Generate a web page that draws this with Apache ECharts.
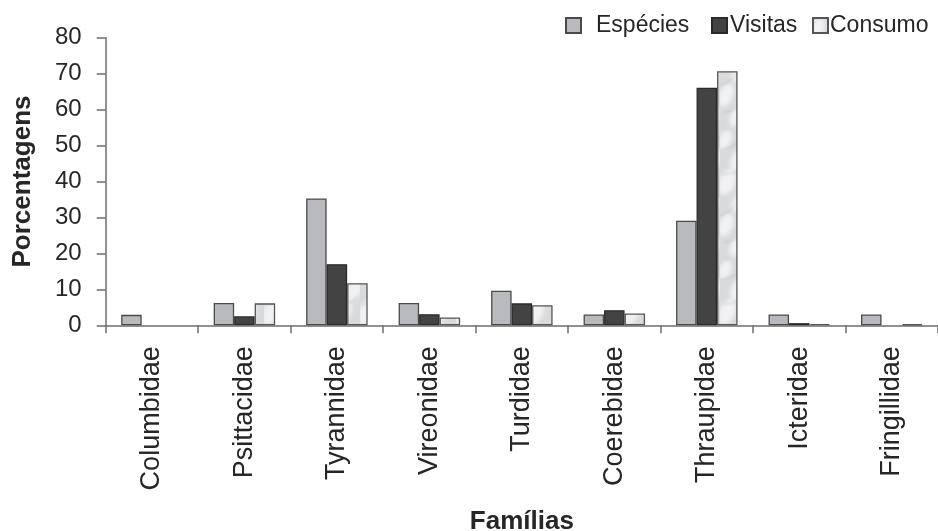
<!DOCTYPE html>
<html>
<head>
<meta charset="utf-8">
<script src="https://cdn.jsdelivr.net/npm/echarts@6/dist/echarts.min.js"></script>
<style>
  html, body { margin: 0; padding: 0; background: #ffffff; }
  #chart { width: 938px; height: 531px; }
</style>
</head>
<body>
<div id="chart"></div>
<script>
// Bird families and their share (%) of species, visits and fruit consumption
const familias = ['Columbidae', 'Psittacidae', 'Tyrannidae', 'Vireonidae', 'Turdidae',
                  'Coerebidae', 'Thraupidae', 'Icteridae', 'Fringillidae'];
const especies = [2.9, 6.2, 35.3, 6.2, 9.6, 3.0, 29.1, 3.0, 3.0];
const visitas  = [0, 2.5, 17.0, 3.1, 6.1, 4.2, 66.1, 0.6, 0];
const consumo  = [0, 6.1, 11.7, 2.2, 5.6, 3.3, 70.7, 0.35, 0.3];
const yTicks = [0, 10, 20, 30, 40, 50, 60, 70, 80];

const FONT = '"Liberation Sans", Arial, sans-serif';
const TEXT = '#262626';

// Soft grey marble fill used for the "Consumo" bars
function marbleTexture() {
  const c = document.createElement('canvas');
  c.width = 24; c.height = 130;
  const g = c.getContext('2d');
  g.fillStyle = '#d9dadc';
  g.fillRect(0, 0, c.width, c.height);
  g.filter = 'blur(2px)';
  // pale patches
  const blobs = [[5, 10, 6], [18, 30, 7], [7, 52, 8], [17, 74, 5], [6, 95, 7], [16, 117, 6]];
  blobs.forEach(([x, y, r]) => {
    g.fillStyle = 'rgba(248,248,250,0.8)';
    g.beginPath(); g.ellipse(x, y, r, r * 1.7, 0.4, 0, Math.PI * 2); g.fill();
  });
  // faint darker veins
  g.filter = 'blur(0.8px)';
  g.strokeStyle = 'rgba(150,150,155,0.35)';
  g.lineWidth = 1;
  const veins = [[0, 20, 24, 6], [3, 44, 21, 36], [0, 86, 24, 64], [4, 112, 20, 102]];
  veins.forEach(([x1, y1, x2, y2]) => {
    g.beginPath(); g.moveTo(x1, y1);
    g.quadraticCurveTo((x1 + x2) / 2 + 4, (y1 + y2) / 2 + 5, x2, y2);
    g.stroke();
  });
  return c;
}
const marble = { image: marbleTexture(), repeat: 'repeat' };

// zero-valued bars are not outlined
const asBars = arr => arr.map(v => (v === 0 ? { value: v, itemStyle: { borderWidth: 0 } } : v));

const chart = echarts.init(document.getElementById('chart'), null, { renderer: 'canvas' });

const legendBase = {
  top: 14,
  padding: 0,
  itemWidth: 15,
  itemHeight: 15,
  itemGap: 0,
  icon: 'rect',
  textStyle: { fontFamily: FONT, fontSize: 23, color: TEXT }
};

chart.setOption({
  backgroundColor: '#ffffff',
  animation: false,
  textStyle: { fontFamily: FONT },
  legend: [
    Object.assign({}, legendBase, { left: 565, data: ['Espécies'],
      textStyle: Object.assign({}, legendBase.textStyle, { padding: [0, 0, 0, 10] }) }),
    Object.assign({}, legendBase, { left: 711, data: ['Visitas'],
      textStyle: Object.assign({}, legendBase.textStyle, { padding: [0, 0, 0, -2] }) }),
    Object.assign({}, legendBase, { left: 812, data: ['Consumo'],
      textStyle: Object.assign({}, legendBase.textStyle, { padding: [0, 0, 0, -3] }) })
  ],
  grid: { left: 105.7, right: 0, top: 37.7, bottom: 205.7, containLabel: false, outerBoundsMode: 'none' },
  xAxis: {
    type: 'category',
    data: familias,
    name: 'Famílias',
    nameLocation: 'middle',
    nameGap: 184,
    nameTextStyle: { fontFamily: FONT, fontSize: 26, fontWeight: 'bold', color: TEXT },
    axisLine: { show: true, lineStyle: { color: '#6e6e6e', width: 1.5 } },
    axisTick: { show: true, alignWithLabel: false, length: 8, lineStyle: { color: '#6e6e6e', width: 1.5 } },
    axisLabel: { rotate: 90, margin: 21, fontFamily: FONT, fontSize: 27, color: TEXT, interval: 0 }
  },
  yAxis: {
    type: 'value',
    min: 0, max: 80, interval: 10,
    name: 'Porcentagens',
    nameLocation: 'middle',
    nameGap: 70,
    nameRotate: 90,
    nameTextStyle: { fontFamily: FONT, fontSize: 26, fontWeight: 'bold', color: TEXT },
    axisLine: { show: true, lineStyle: { color: '#6e6e6e', width: 1.5 } },
    axisTick: { show: true, inside: false, length: 9, lineStyle: { color: '#6e6e6e', width: 1.5 } },
    splitLine: { show: false },
    axisLabel: {
      margin: 24, fontFamily: FONT, fontSize: 24, color: TEXT,
      formatter: v => (yTicks.indexOf(v) >= 0 ? String(v) : '')
    }
  },
  series: [
    {
      name: 'Espécies', type: 'bar', data: asBars(especies),
      barWidth: 20.5, barGap: '0%',
      itemStyle: { color: '#b9babe', borderColor: '#4a4a4a', borderWidth: 1.3 }
    },
    {
      name: 'Visitas', type: 'bar', data: asBars(visitas),
      barWidth: 20.5, barGap: '0%',
      itemStyle: { color: '#434343', borderColor: '#2a2a2a', borderWidth: 1.3 }
    },
    {
      name: 'Consumo', type: 'bar', data: asBars(consumo),
      barWidth: 20.5, barGap: '0%',
      itemStyle: { color: marble, borderColor: '#555555', borderWidth: 1.3 }
    }
  ]
});
</script>
</body>
</html>
